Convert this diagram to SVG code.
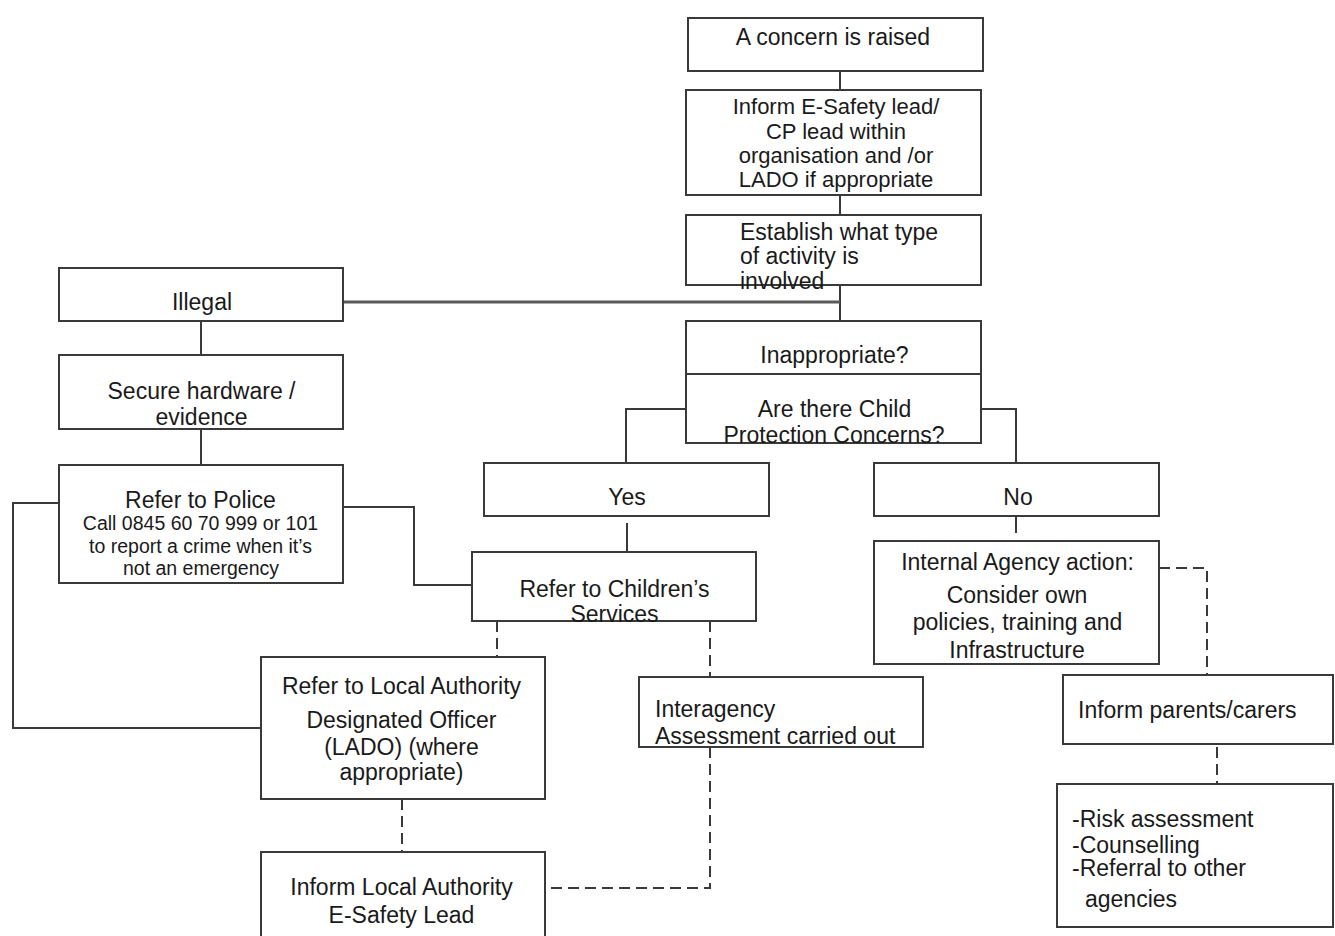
<svg xmlns="http://www.w3.org/2000/svg" width="1335" height="936" viewBox="0 0 1335 936">
<style>
  .box { fill: #ffffff; stroke: #3a3a3a; stroke-width: 2; }
  .t { font-family: "Liberation Sans", Arial, sans-serif; font-size: 23px; fill: #1a1a1a; }
  .m { text-anchor: middle; }
  .s22 { font-size: 22px; }
  .s19 { font-size: 19.5px; }
  .ln { fill: none; stroke: #3a3a3a; stroke-width: 2; }
  .thick { fill: none; stroke: #5a5a5a; stroke-width: 3; }
  .dash { fill: none; stroke: #3a3a3a; stroke-width: 2; stroke-dasharray: 11 6; }
</style>
<rect width="1335" height="936" fill="#ffffff"/>

<g id="connectors">
  <line class="ln" x1="840" y1="71" x2="840" y2="90"/>
  <line class="ln" x1="840" y1="195" x2="840" y2="215"/>
  <line class="ln" x1="840" y1="285" x2="840" y2="321"/>
  <line class="thick" x1="343" y1="302" x2="840" y2="302"/>
  <line class="ln" x1="201" y1="321" x2="201" y2="355"/>
  <line class="ln" x1="201" y1="429" x2="201" y2="465"/>
  <polyline class="ln" points="59,503 13,503 13,728 261,728"/>
  <polyline class="ln" points="343,507 414,507 414,585 472,585"/>
  <polyline class="ln" points="686,409 626,409 626,463"/>
  <polyline class="ln" points="981,409 1016,409 1016,463"/>
  <line class="ln" x1="627" y1="523" x2="627" y2="558"/>
  <line class="ln" x1="1016" y1="516" x2="1016" y2="533"/>
  <line class="dash" x1="497" y1="621" x2="497" y2="657"/>
  <line class="dash" x1="710" y1="621" x2="710" y2="677"/>
  <line class="dash" x1="402" y1="799" x2="402" y2="852"/>
  <polyline class="dash" points="710,747 710,888 545,888"/>
  <polyline class="dash" points="1159,568 1207,568 1207,675"/>
  <line class="dash" x1="1217" y1="747" x2="1217" y2="784"/>
</g>

<g id="concern">
  <rect class="box" x="688" y="18" width="295" height="53"/>
  <text class="t m" x="833" y="45">A concern is raised</text>
</g>

<g id="inform-lead">
  <rect class="box" x="686" y="90" width="295" height="105"/>
  <text class="t m s22" x="836" y="114">Inform E-Safety lead/</text>
  <text class="t m s22" x="836" y="138.5">CP lead within</text>
  <text class="t m s22" x="836" y="163">organisation and /or</text>
  <text class="t m s22" x="836" y="187">LADO if appropriate</text>
</g>

<g id="establish">
  <rect class="box" x="686" y="215" width="295" height="70"/>
  <text class="t" x="740" y="240">Establish what type</text>
  <text class="t" x="740" y="264">of activity is</text>
  <text class="t" x="740" y="289">involved</text>
</g>

<g id="illegal">
  <rect class="box" x="59" y="268" width="284" height="53"/>
  <text class="t m" x="202" y="310">Illegal</text>
</g>

<g id="secure">
  <rect class="box" x="59" y="355" width="284" height="74"/>
  <text class="t m" x="201.5" y="399">Secure hardware /</text>
  <text class="t m" x="201.5" y="425">evidence</text>
</g>

<g id="police">
  <rect class="box" x="59" y="465" width="284" height="118"/>
  <text class="t m" x="200.5" y="508">Refer to Police</text>
  <text class="t m s19" x="200.5" y="530">Call 0845 60 70 999 or 101</text>
  <text class="t m s19" x="200.5" y="553">to report a crime when it’s</text>
  <text class="t m s19" x="201" y="575">not an emergency</text>
</g>

<g id="inappropriate">
  <rect class="box" x="686" y="321" width="295" height="53"/>
  <text class="t m" x="834.5" y="363">Inappropriate?</text>
</g>

<g id="cp-concerns">
  <rect class="box" x="686" y="374" width="295" height="69"/>
  <text class="t m" x="834.5" y="417">Are there Child</text>
  <text class="t m" x="834" y="443">Protection Concerns?</text>
</g>

<g id="yes">
  <rect class="box" x="484" y="463" width="285" height="53"/>
  <text class="t m" x="627" y="505">Yes</text>
</g>

<g id="no">
  <rect class="box" x="874" y="463" width="285" height="53"/>
  <text class="t m" x="1018" y="505">No</text>
</g>

<g id="childrens-services">
  <rect class="box" x="472" y="552" width="284" height="69"/>
  <text class="t m" x="614.5" y="597">Refer to Children’s</text>
  <text class="t m" x="614.5" y="622">Services</text>
</g>

<g id="internal-action">
  <rect class="box" x="874" y="541" width="285" height="123"/>
  <text class="t m" x="1017.5" y="570">Internal Agency action:</text>
  <text class="t m" x="1017" y="603">Consider own</text>
  <text class="t m" x="1017.5" y="630">policies, training and</text>
  <text class="t m" x="1017" y="658">Infrastructure</text>
</g>

<g id="lado">
  <rect class="box" x="261" y="657" width="284" height="142"/>
  <text class="t m" x="401.5" y="694">Refer to Local Authority</text>
  <text class="t m" x="401.5" y="728">Designated Officer</text>
  <text class="t m" x="401.5" y="755">(LADO) (where</text>
  <text class="t m" x="401.5" y="780">appropriate)</text>
</g>

<g id="interagency">
  <rect class="box" x="639" y="677" width="284" height="70"/>
  <text class="t" x="655" y="717">Interagency</text>
  <text class="t" x="655" y="744">Assessment carried out</text>
</g>

<g id="inform-parents">
  <rect class="box" x="1063" y="675" width="270" height="69"/>
  <text class="t" x="1078" y="718">Inform parents/carers</text>
</g>

<g id="support">
  <rect class="box" x="1057" y="784" width="276" height="143"/>
  <text class="t" x="1072" y="827">-Risk assessment</text>
  <text class="t" x="1072" y="853">-Counselling</text>
  <text class="t" x="1072" y="876">-Referral to other</text>
  <text class="t" x="1085" y="907">agencies</text>
</g>

<g id="inform-la">
  <rect class="box" x="261" y="852" width="284" height="90"/>
  <text class="t m" x="401.5" y="895">Inform Local Authority</text>
  <text class="t m" x="401.5" y="923">E-Safety Lead</text>
</g>
</svg>
